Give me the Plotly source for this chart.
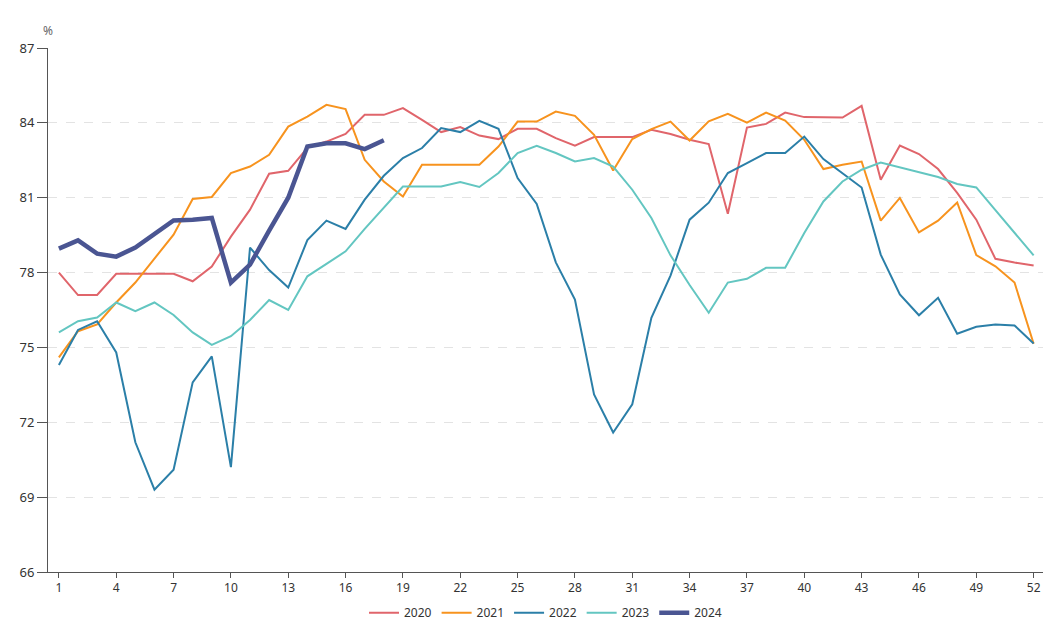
import plotly.graph_objects as go

weeks = list(range(1, 53))
week_labels = [str(w) for w in weeks]

series_names = ["2020", "2021", "2022", "2023", "2024"]

s_red = [78.0, 77.1, 77.1, 77.95, 77.95, 77.95, 77.95, 77.65, 78.24, 79.44,
         80.52, 81.96, 82.08, 83.0, 83.25, 83.56, 84.32, 84.32, 84.59, 84.12,
         83.63, 83.83, 83.49, 83.35, 83.76, 83.76, 83.39, 83.09, 83.43, 83.43,
         83.43, 83.72, 83.55, 83.32, 83.15, 80.36, 83.81, 83.96, 84.41, 84.23,
         84.21, 84.21, 84.68, 81.72, 83.09, 82.75, 82.15, 81.19, 80.12, 78.55,
         78.4, 78.28]

s_orange = [74.6, 75.65, 75.92, 76.8, 77.6, 78.55, 79.52, 80.95, 81.03, 81.99,
            82.25, 82.72, 83.85, 84.25, 84.72, 84.55, 82.52, 81.65, 81.05, 82.32,
            82.32, 82.32, 82.32, 83.05, 84.05, 84.05, 84.45, 84.28, 83.52, 82.09,
            83.35, 83.75, 84.05, 83.29, 84.06, 84.36, 84.01, 84.41, 84.09, 83.32,
            82.15, 82.32, 82.45, 80.08, 80.99, 79.61, 80.08, 80.81, 78.7, 78.25,
            77.6, 75.15]

s_blue = [74.3, 75.7, 76.05, 74.8, 71.2, 69.3, 70.1, 73.6, 74.64, 70.2,
          79.0, 78.1, 77.4, 79.3, 80.08, 79.75, 80.92, 81.88, 82.59, 82.99,
          83.79, 83.63, 84.08, 83.76, 81.79, 80.75, 78.41, 76.92, 73.12, 71.59,
          72.72, 76.19, 77.88, 80.12, 80.8, 81.99, 82.39, 82.79, 82.79, 83.45,
          82.55, 81.99, 81.41, 78.72, 77.12, 76.29, 76.99, 75.55, 75.83, 75.92,
          75.88, 75.16]

s_teal = [75.6, 76.05, 76.2, 76.8, 76.45, 76.8, 76.3, 75.6, 75.1, 75.45,
          76.1, 76.9, 76.5, 77.85, 78.35, 78.85, 79.75, 80.6, 81.45, 81.45,
          81.45, 81.63, 81.43, 81.99, 82.79, 83.08, 82.79, 82.45, 82.59, 82.25,
          81.32, 80.19, 78.69, 77.5, 76.39, 77.6, 77.75, 78.19, 78.19, 79.59,
          80.85, 81.65, 82.12, 82.41, 82.21, 82.01, 81.83, 81.55, 81.41, 80.5,
          79.6, 78.69]

s_navy = [78.96, 79.29, 78.76, 78.64, 79.0, 79.52, 80.09, 80.12, 80.19, 77.6,
          78.32, 79.68, 81.0, 83.05, 83.18, 83.18, 82.95, 83.3]

y_ticks = [66, 69, 72, 75, 78, 81, 84, 87]

colors = ["#e0656b", "#f7931e", "#2b7fa8", "#63c6c1", "#4a5592"]
widths = [2, 2, 2, 2, 4.5]
data = [s_red, s_orange, s_blue, s_teal, s_navy]

fig = go.Figure()
for name, vals, col, w in zip(series_names, data, colors, widths):
    fig.add_trace(go.Scatter(
        x=weeks[:len(vals)], y=vals, name=name, mode="lines",
        line=dict(color=col, width=w),
        hovertemplate="%{y:.2f}%<extra>" + name + "</extra>",
    ))

fig.update_layout(
    width=1063, height=631,
    margin=dict(l=38, r=28, t=40, b=66),
    paper_bgcolor="white", plot_bgcolor="white",
    font=dict(family="Noto Sans, DejaVu Sans, sans-serif", size=13, color="#333"),
    showlegend=True,
    legend=dict(orientation="h", x=0.5, xanchor="center", y=-0.05, yanchor="top",
                font=dict(size=12, color="#333"), itemwidth=30),
    annotations=[dict(text="%", xref="paper", yref="paper", x=0, y=1.034,
                      xanchor="center", yanchor="middle", showarrow=False,
                      font=dict(size=12, color="#666"))],
)

fig.update_yaxes(
    range=[66, 87], tickvals=y_ticks, ticktext=[str(t) for t in y_ticks],
    showline=True, linecolor="#555", linewidth=1,
    ticks="outside", ticklen=10, tickcolor="#555",
    showgrid=True, gridcolor="#e3e3e3", griddash="dash", gridwidth=1,
    zeroline=False, tickfont=dict(size=13, color="#333"),
)
fig.update_xaxes(
    range=[0.43, 52.49], tickvals=weeks[::3], ticktext=week_labels[::3],
    showline=True, linecolor="#555", linewidth=1,
    ticks="outside", ticklen=5, tickcolor="#555",
    showgrid=False, zeroline=False, tickfont=dict(size=12, color="#333"),
)

fig.write_html("out.html")
